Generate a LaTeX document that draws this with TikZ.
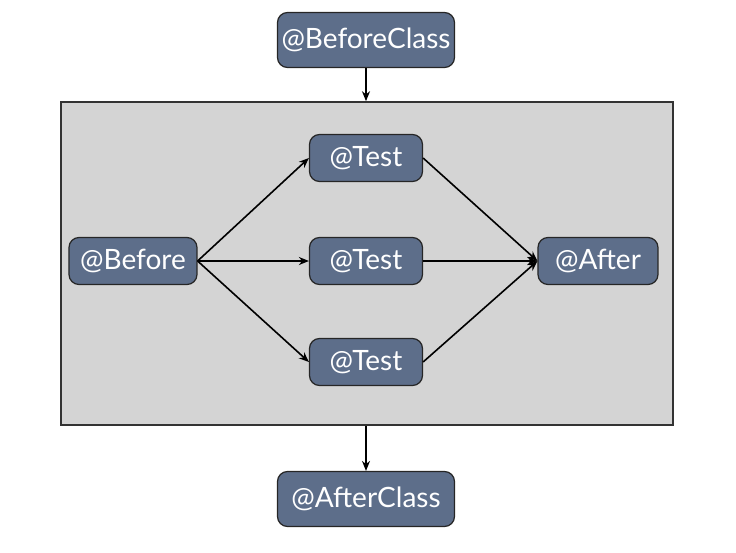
\documentclass[tikz,border=0pt]{standalone}
\usepackage{fontspec}
\setmainfont{Lato}
\usepackage{xcolor}
\usetikzlibrary{arrows.meta}

\definecolor{boxblue}{HTML}{5D6E8A}
\definecolor{panelgray}{HTML}{D4D4D4}

\tikzset{
    anno/.style={draw=black!85, line width=0.6pt, fill=boxblue, rounded corners=5pt,
        text=white, font=\fontsize{14}{16}\selectfont, minimum height=23.5pt, inner xsep=2pt},
    classanno/.style={anno, minimum height=27.5pt, minimum width=88.5pt},
    arr/.style={-{Stealth[length=5pt, width=4pt]}, line width=0.8pt, black}
}

\begin{document}
\begin{tikzpicture}[x=0.5pt, y=-0.5pt]
            \useasboundingbox (0,0) rectangle (736,553);

            % Draw the panel
            \node[draw=black!80, line width=0.8pt, fill=panelgray, minimum width=306pt, minimum height=161.5pt, inner sep=0pt] (panel) at (367,263.5) {};

            % Draw the annotations
            \node[classanno] (beforeclass) at (366,40) {@BeforeClass};
            \node[classanno] (afterclass) at (366,499) {@AfterClass};
            \node[anno, minimum width=64pt] (before) at (133,261) {@Before};
            \node[anno, minimum width=56.5pt] (test1) at (366,158) {@Test};
            \node[anno, minimum width=56.5pt] (test2) at (366,261) {@Test};
            \node[anno, minimum width=56.5pt] (test3) at (366,362) {@Test};
            \node[anno, minimum width=60pt] (after) at (598,261) {@After};

            % Draw the arrows
            \draw[arr] (beforeclass) -- (beforeclass |- panel.north);
            \draw[arr] (afterclass |- panel.south) -- (afterclass);
            \foreach \t in {test1, test2, test3} {
                \draw[arr] (before.east) -- (\t.west);
                \draw[arr] (\t.east) -- (after.west);
            }

        \end{tikzpicture}
\end{document}
